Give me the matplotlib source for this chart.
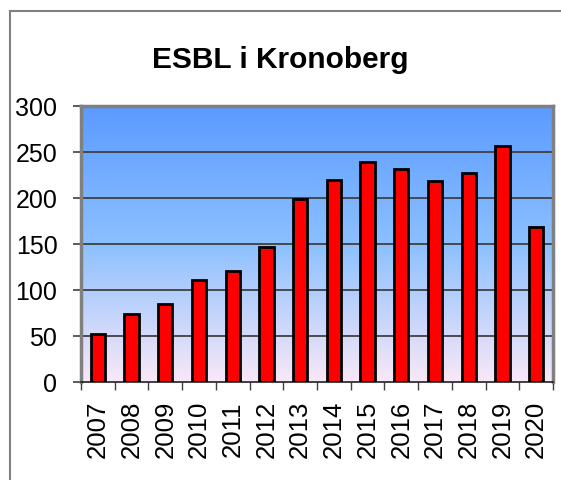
"""ESBL i Kronoberg : nombre de cas par année."""

import matplotlib.pyplot as plt
import numpy as np
from matplotlib.colors import LinearSegmentedColormap
from matplotlib.lines import Line2D

plt.rcParams["font.family"] = ["Liberation Sans", "DejaVu Sans"]

years = ["2007", "2008", "2009", "2010", "2011", "2012", "2013",
         "2014", "2015", "2016", "2017", "2018", "2019", "2020"]
cases = [52, 74, 85, 111, 121, 147, 199, 220, 239, 231, 219, 227, 256, 169]
y_ticks = [0, 50, 100, 150, 200, 250, 300]

W, H = 561, 481
fig = plt.figure(figsize=(W / 100, H / 100), dpi=100)
ax = fig.add_axes([81 / W, 1 - 383 / H, (553 - 81) / W, (383 - 107) / H])

# fond en dégradé (bleu en haut -> rose pâle en bas)
cmap = LinearSegmentedColormap.from_list(
    "bg", [(0.0, "#f9e8f7"), (0.5, "#8cc0ff"), (1.0, "#5b9bff")])
grad = np.linspace(0, 1, 256).reshape(-1, 1)
ax.imshow(grad, cmap=cmap, aspect="auto", origin="lower",
          extent=[-0.5, len(years) - 0.5, 0, 300], zorder=0)

x = np.arange(len(years))
ax.bar(x, cases, width=0.42, color="#ff0000", edgecolor="black",
       linewidth=2, zorder=3)

ax.set_xlim(-0.5, len(years) - 0.5)
ax.set_ylim(0, 300)
ax.set_yticks(y_ticks)
ax.set_yticklabels([str(v) for v in y_ticks], fontsize=18)
for v in y_ticks[1:-1]:
    ax.axhline(v, color="#404040", lw=1.3, zorder=1)

ax.set_xticks(x)
ax.set_xticklabels(years, rotation=90, fontsize=18.5)
ax.tick_params(axis="x", length=0, pad=13)
ax.set_xticks(np.arange(-0.5, len(years)), minor=True)
ax.tick_params(axis="x", which="minor", length=5.5, width=1, color="#404040")
ax.tick_params(axis="y", length=6, width=1.2, color="#404040", pad=11)

for side in ["left", "top", "right"]:
    ax.spines[side].set_color("#808080")
    ax.spines[side].set_linewidth(2.5)
ax.spines["bottom"].set_color("#202020")
ax.spines["bottom"].set_linewidth(1.2)

fig.text(0.5, 1 - 60 / H, "ESBL i Kronoberg", ha="center", va="center",
         fontsize=21.5, fontweight="bold")

# cadre du graphique
fig.add_artist(Line2D([10 / W, 10 / W], [0, 1 - 12 / H], color="#808080", lw=1.5))
fig.add_artist(Line2D([10 / W, 1], [1 - 12 / H, 1 - 12 / H], color="#808080", lw=1.5))

fig.savefig("out.png", dpi=100)
